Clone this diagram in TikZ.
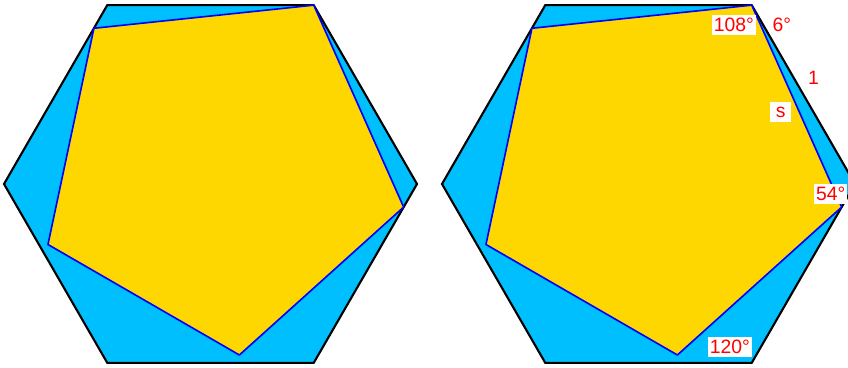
\documentclass[tikz,border=0pt]{standalone}
\usepackage{fontspec}
\setmainfont{Liberation Sans}
\definecolor{hexblue}{RGB}{0,191,255}
\definecolor{pentgold}{RGB}{255,215,0}
\usetikzlibrary{positioning,calc}

\begin{document}
\begin{tikzpicture}[
  x=0.03cm, y=0.03cm,
  hexa/.style={
    draw=black, fill=hexblue,
    line width=1.8pt, line join=miter
  },
  penta/.style={
    draw=blue, fill=pentgold,
    line width=1.4pt, line join=round
  },
  lbl/.style={text=red, fill=white, inner sep=1.5pt,
    minimum height=17pt,
    font=\fontsize{16.5}{19}\selectfont}
]
\useasboundingbox (0,0) rectangle (848,367);
\def\hs{206.5}
\def\ps{221.05}
\foreach \cx/\nm in {210.5/L, 648.5/R} {
  \foreach \k in {0,...,5}
    \path (\cx,183) ++(\k*60:\hs) coordinate (\nm h\k);
  \draw[hexa] (\nm h0) -- (\nm h1) -- (\nm h2) -- (\nm h3) -- (\nm h4) -- (\nm h5) -- cycle;
  \path (\nm h1) coordinate (\nm p0)
    ++(-66:\ps) coordinate (\nm p1)
    ++(-138:\ps) coordinate (\nm p2)
    ++(-210:\ps) coordinate (\nm p3)
    ++(-282:\ps) coordinate (\nm p4);
  \draw[penta] (\nm p0) -- (\nm p1) -- (\nm p2) -- (\nm p3) -- (\nm p4) -- cycle;
}

% angles and sides on the right copy
\node[lbl] (top) at ([shift={(-18,-20)}]Rp0) {108°};
\node[lbl] (tilt) at ([shift={(30,-20)}]Rp0) {6°};
\node[lbl] (one) at ([shift={(10,17)}]$(Rh1)!0.5!(Rh0)$) {1};
\node[lbl, minimum width=18pt] (side) at ([shift={(-16,-6)}]$(Rp0)!0.5!(Rp1)$) {s};
\node[lbl] (base) at ([shift={(-11,13)}]Rp1) {54°};
\node[lbl] (corner) at ([shift={(-22,16)}]Rh5) {120°};
\end{tikzpicture}
\end{document}
